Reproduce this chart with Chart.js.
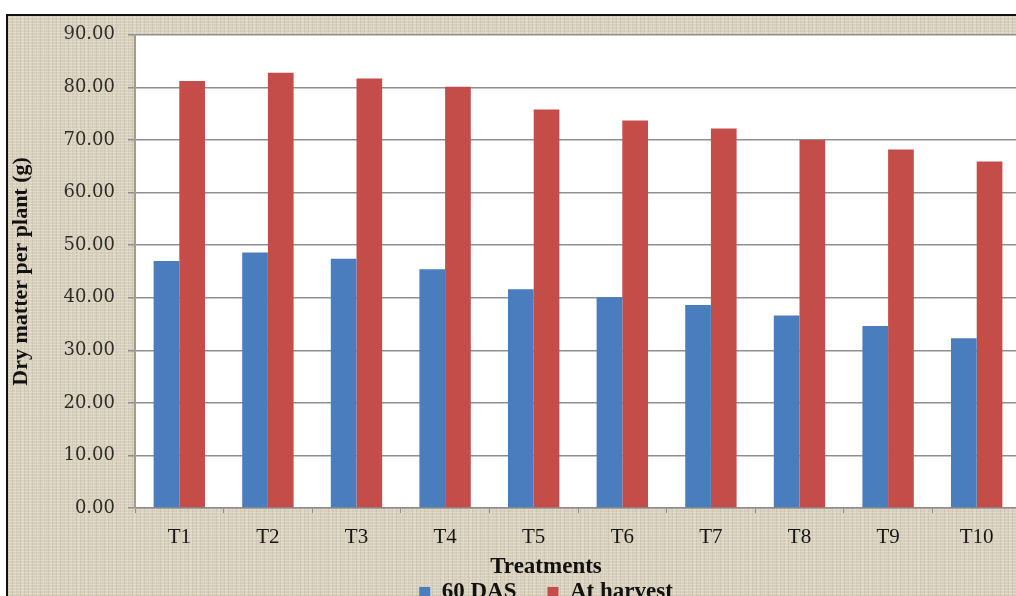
<!DOCTYPE html>
<html>
<head>
<meta charset="utf-8">
<script src="https://cdn.jsdelivr.net/npm/chart.js@4/dist/chart.umd.min.js"></script>
<style>
  html, body { margin: 0; padding: 0; background: #ffffff; overflow: hidden; width: 1016px; height: 596px; }
  #frame {
    position: absolute; left: 6px; top: 14px; width: 1100px; height: 620px;
    border-left: 2px solid #111; border-top: 2px solid #111;
    background-color: #d8cfbb;
    background-image:
      repeating-linear-gradient(0deg, rgba(255,255,255,0.22) 0 1px, transparent 1px 3px),
      repeating-linear-gradient(90deg, rgba(110,95,70,0.10) 0 1px, transparent 1px 4px),
      repeating-linear-gradient(90deg, rgba(255,255,255,0.12) 0 2px, transparent 2px 7px);
  }
  #chart { position: absolute; left: 0; top: -5px; }
</style>
</head>
<body>
<div id="frame"><canvas id="chart" width="1076" height="603"></canvas></div>
<script>
// Treatments on the x axis
const categories = ['T1', 'T2', 'T3', 'T4', 'T5', 'T6', 'T7', 'T8', 'T9', 'T10'];
// Dry matter per plant (g)
const das60     = [47.0, 48.6, 47.4, 45.4, 41.6, 40.1, 38.6, 36.6, 34.6, 32.3];
const atHarvest = [81.2, 82.8, 81.7, 80.1, 75.8, 73.7, 72.2, 70.0, 68.2, 65.9];
const seriesNames = ['60 DAS', 'At harvest'];
// Value axis range and tick step
const yMin = 0, yMax = 90, yStep = 10;

const serif = "'Liberation Serif', 'Times New Roman', serif";
const gridGray = '#8f8f8f';

// White plotting surface behind the bars
const plotBackground = {
  id: 'plotBackground',
  beforeDraw(chart) {
    const { ctx, chartArea: a } = chart;
    ctx.save();
    ctx.fillStyle = '#ffffff';
    ctx.fillRect(a.left, a.top, a.right - a.left, a.bottom - a.top);
    ctx.restore();
  }
};

new Chart(document.getElementById('chart'), {
  type: 'bar',
  data: {
    labels: categories,
    datasets: [
      { label: seriesNames[0], data: das60, backgroundColor: '#4a7dbe', borderWidth: 0 },
      { label: seriesNames[1], data: atHarvest, backgroundColor: '#c44d4a', borderWidth: 0 }
    ]
  },
  options: {
    responsive: false,
    animation: false,
    devicePixelRatio: 1,
    categoryPercentage: 0.58,
    barPercentage: 1.0,
    layout: { padding: { top: 0, left: 0, right: 0, bottom: 0 } },
    plugins: {
      tooltip: { enabled: false },
      title: {
        display: true,
        position: 'bottom',
        weight: 500,
        text: 'Treatments',
        color: '#111111',
        font: { family: serif, size: 23, weight: 'bold', lineHeight: 1.2 },
        padding: { top: 3.2, bottom: -30.8 }
      },
      legend: {
        position: 'bottom',
        labels: {
          boxWidth: 11,
          boxHeight: 11,
          padding: 31,
          color: '#111111',
          font: { family: serif, size: 23, weight: 'bold' }
        }
      }
    },
    scales: {
      x: {
        position: 'bottom',
        afterFit(scale) { scale.height = 42; },
        grid: {
          offset: true,
          drawOnChartArea: false,
          drawTicks: true,
          tickLength: 5,
          color: gridGray,
          lineWidth: 1
        },
        border: { display: true, color: gridGray, width: 1.5 },
        ticks: {
          padding: 12,
          color: '#151515',
          font: { family: serif, size: 21 }
        }
      },
      y: {
        position: 'left',
        min: yMin,
        max: yMax,
        afterFit(scale) { scale.width = 127; },
        grid: {
          color: gridGray,
          lineWidth: 1.5,
          drawTicks: true,
          tickLength: 7
        },
        border: { display: true, color: '#a39b8c', width: 2 },
        ticks: {
          stepSize: yStep,
          padding: 13,
          color: '#2f2c29',
          font: { family: "'DejaVu Serif', serif", size: 18 },
          callback: (v) => Number(v).toFixed(2)
        },
        title: {
          display: true,
          text: 'Dry matter per plant (g)',
          color: '#111111',
          font: { family: serif, size: 22, weight: 'bold', lineHeight: 1.2 },
          padding: { top: 0, bottom: 0 }
        }
      },
      // empty right-hand margin so the plot runs past the frame's edge
      margin: {
        type: 'linear',
        position: 'right',
        display: true,
        afterFit(scale) { scale.width = 63; },
        grid: { display: false, drawTicks: false },
        border: { display: false },
        ticks: { display: false }
      }
    }
  },
  plugins: [plotBackground]
});
</script>
</body>
</html>
